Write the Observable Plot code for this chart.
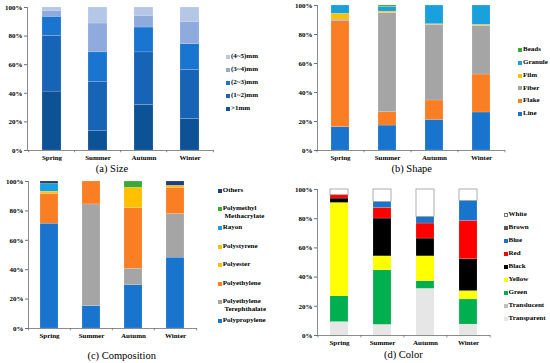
<!DOCTYPE html>
<html>
<head>
<meta charset="utf-8">
<script src="https://cdn.jsdelivr.net/npm/d3@7"></script>
<script src="https://cdn.jsdelivr.net/npm/@observablehq/plot@0.6"></script>
<style>
  html, body { margin: 0; padding: 0; background: #fff; }
  #root { position: relative; width: 550px; height: 363px; overflow: hidden; background: #fff; font-family: "Liberation Serif", "Times New Roman", serif; }
  .panel { position: absolute; }
  .caption { position: absolute; font-size: 10.5px; color: #000; transform: translate(-50%, -50%); white-space: nowrap; }
  .leg { position: absolute; font-size: 7px; font-weight: bold; color: #000; line-height: 7.7px; white-space: nowrap; }
  .sw { position: absolute; width: 4px; height: 4px; box-sizing: border-box; }
</style>
</head>
<body>
<div id="root"></div>
<script>
// ---------- DATA ----------
const seasons = ["Spring", "Summer", "Autumn", "Winter"];

// (a) Size — categories bottom to top, values per season (%)
const sizeCats = [">1mm", "(1~2)mm", "(2~3)mm", "(3~4)mm", "(4~5)mm"];
const sizeValues = [
  [41.2, 13.5, 31.9, 22.1],
  [39.0, 34.6, 36.7, 34.2],
  [13.3, 20.5, 17.4, 18.1],
  [4.2, 20.2, 8.2, 15.6],
  [2.3, 11.2, 5.8, 10.0]
];
const sizeColors = ["#0D5295", "#1763B5", "#1A75D0", "#8FAADC", "#B4C7E7"];

// (b) Shape
const shapeCats = ["Line", "Flake", "Fiber", "Film", "Granule", "Beads"];
const shapeValues = [
  [16.1, 17.2, 21.1, 26.2],
  [73.1, 9.2, 13.4, 26.2],
  [1.1, 68.5, 52.2, 33.6],
  [4.0, 0.9, 0.4, 0.7],
  [5.7, 3.2, 12.9, 13.3],
  [0.0, 1.0, 0.0, 0.0]
];
const shapeColors = ["#1874CD", "#FA7E23", "#A5A5A5", "#FFC000", "#1BA0DE", "#3BAA35"];

// (c) Composition
const compCats = ["Polypropylene", "Polyethylene Terephthalate", "Polyethylene", "Polyester", "Polystyrene", "Rayon", "Polymethyl Methacrylate", "Others"];
const compLegendLines = [["Polypropylene"], ["Polyethylene", "Terephthalate"], ["Polyethylene"], ["Polyester"], ["Polystyrene"], ["Rayon"], ["Polymethyl", "Methacrylate"], ["Others"]];
const compValues = [
  [71.3, 15.2, 29.4, 48.2],
  [0.0, 69.2, 11.3, 29.6],
  [20.3, 15.6, 41.2, 17.9],
  [1.5, 0.0, 0.0, 1.4],
  [0.0, 0.0, 13.8, 0.0],
  [5.2, 0.0, 0.0, 0.0],
  [0.0, 0.0, 4.3, 0.0],
  [1.7, 0.0, 0.0, 2.9]
];
const compColors = ["#1874CD", "#A5A5A5", "#FA7E23", "#FFC000", "#FFC000", "#1BA0DE", "#3BAA35", "#1F3F7A"];

// (d) Color
const colorCats = ["Transparent", "Translucent", "Green", "Yellow", "Black", "Red", "Blue", "Brown", "White"];
const colorValues = [
  [9.2, 7.3, 32.0, 7.5],
  [0.0, 0.0, 0.0, 0.0],
  [17.6, 37.3, 5.1, 17.2],
  [64.0, 9.6, 17.1, 5.7],
  [3.0, 25.9, 12.2, 21.8],
  [2.3, 7.3, 10.3, 26.3],
  [0.0, 4.1, 4.5, 13.7],
  [0.0, 0.0, 0.0, 0.0],
  [3.9, 8.5, 18.8, 7.8]
];
const colorColors = ["#E7E6E6", "#BFBFBF", "#00B050", "#FFFF00", "#000000", "#FF0000", "#1874CD", "#595959", "#FFFFFF"];

const yTicks = [0, 20, 40, 60, 80, 100];

// ---------- LAYOUT ----------
const panels = [
  { cats: sizeCats, values: sizeValues, colors: sizeColors, caption: "(a) Size",
    left: 0, top: 0, width: 214, height: 164, marginLeft: 27, marginTop: 7, pad: 0.59,
    capX: 112, capY: 168, legSw: 226, legTx: 231, legY: 57, legStep: 13 },
  { cats: shapeCats, values: shapeValues, colors: shapeColors, caption: "(b) Shape",
    left: 275, top: 0, width: 230, height: 164, marginLeft: 42, marginTop: 5, pad: 0.61,
    capX: 411.7, capY: 168, legSw: 518, legTx: 523, legY: 50, legStep: 12.8 },
  { cats: compCats, values: compValues, colors: compColors, caption: "(c) Composition", lines: compLegendLines,
    left: 0, top: 174, width: 197, height: 168, marginLeft: 28, marginTop: 7, pad: 0.57,
    capX: 121.7, capY: 355, legSw: 218, legTx: 222.7, legY: 190.7, legStep: 18.6 },
  { cats: colorCats, values: colorValues, colors: colorColors, caption: "(d) Color",
    left: 275, top: 182, width: 215, height: 167, marginLeft: 42, marginTop: 7, pad: 0.58,
    capX: 403.3, capY: 353.7, legSw: 504, legTx: 508.5, legY: 215, legStep: 13 }
];

const root = document.getElementById("root");

for (const p of panels) {
  const data = [];
  p.cats.forEach((c, i) => seasons.forEach((s, j) => data.push({ season: s, cat: c, value: p.values[i][j] })));
  const step = (p.width - p.marginLeft) / seasons.length;

  const chart = Plot.plot({
    width: p.width,
    height: p.height,
    marginLeft: p.marginLeft,
    marginRight: 0,
    marginTop: p.marginTop,
    marginBottom: 14,
    style: { fontFamily: "'Liberation Serif', 'Times New Roman', serif", fontSize: "7px", fontWeight: "bold", color: "#000", background: "transparent", overflow: "visible" },
    x: { domain: seasons, paddingInner: p.pad, paddingOuter: p.pad / 2, label: null },
    y: { domain: [0, 100], label: null },
    color: { domain: p.cats, range: p.colors },
    marks: [
      Plot.barY(data, {
        x: "season", y: "value", fill: "cat",
        stroke: d => d.cat === "White" ? "#9A9A9A" : "#FFFFFF",
        strokeWidth: d => d.cat === "White" ? 0.8 : 0.3,
        strokeOpacity: d => d.cat === "White" ? 1 : 0.5
      }),
      Plot.ruleY([0], { stroke: "#6E6E6E", strokeWidth: 0.8 }),
      Plot.frame({ anchor: "left", stroke: "#6E6E6E", strokeWidth: 0.8 }),
      // category boundary ticks on the x axis
      Plot.ruleX(seasons, { x: d => d, y1: 0, y2: -1.6, dx: -step / 2, stroke: "#6E6E6E", strokeWidth: 0.8 }),
      Plot.ruleX(seasons.slice(-1), { x: d => d, y1: 0, y2: -1.6, dx: step / 2, stroke: "#6E6E6E", strokeWidth: 0.8 }),
      Plot.axisY({ ticks: yTicks, tickFormat: d => d + "%", tickSize: 3, tickPadding: 2, stroke: "#6E6E6E" }),
      Plot.axisX({ tickSize: 0, tickPadding: 5 })
    ]
  });
  chart.classList.add("panel");
  chart.style.left = p.left + "px";
  chart.style.top = p.top + "px";
  root.appendChild(chart);

  const cap = document.createElement("div");
  cap.className = "caption";
  cap.textContent = p.caption;
  cap.style.left = p.capX + "px";
  cap.style.top = p.capY + "px";
  root.appendChild(cap);

  // legend: top item is the last stacked category
  const order = p.cats.map((c, i) => i).reverse();
  order.forEach((ci, k) => {
    const cy = p.legY + k * p.legStep;
    const sw = document.createElement("div");
    sw.className = "sw";
    sw.style.left = p.legSw + "px";
    sw.style.top = (cy - 2) + "px";
    sw.style.background = p.colors[ci];
    if (p.cats[ci] === "White") sw.style.border = "0.8px solid #777";
    root.appendChild(sw);
    const lines = p.lines ? p.lines[ci] : [p.cats[ci]];
    const tx = document.createElement("div");
    tx.className = "leg";
    tx.style.left = p.legTx + "px";
    tx.style.top = (cy - 3.85) + "px";
    tx.innerHTML = lines.map((l, li) => li ? "&nbsp;" + l : l).join("<br>");
    root.appendChild(tx);
  });
}
</script>
</body>
</html>
